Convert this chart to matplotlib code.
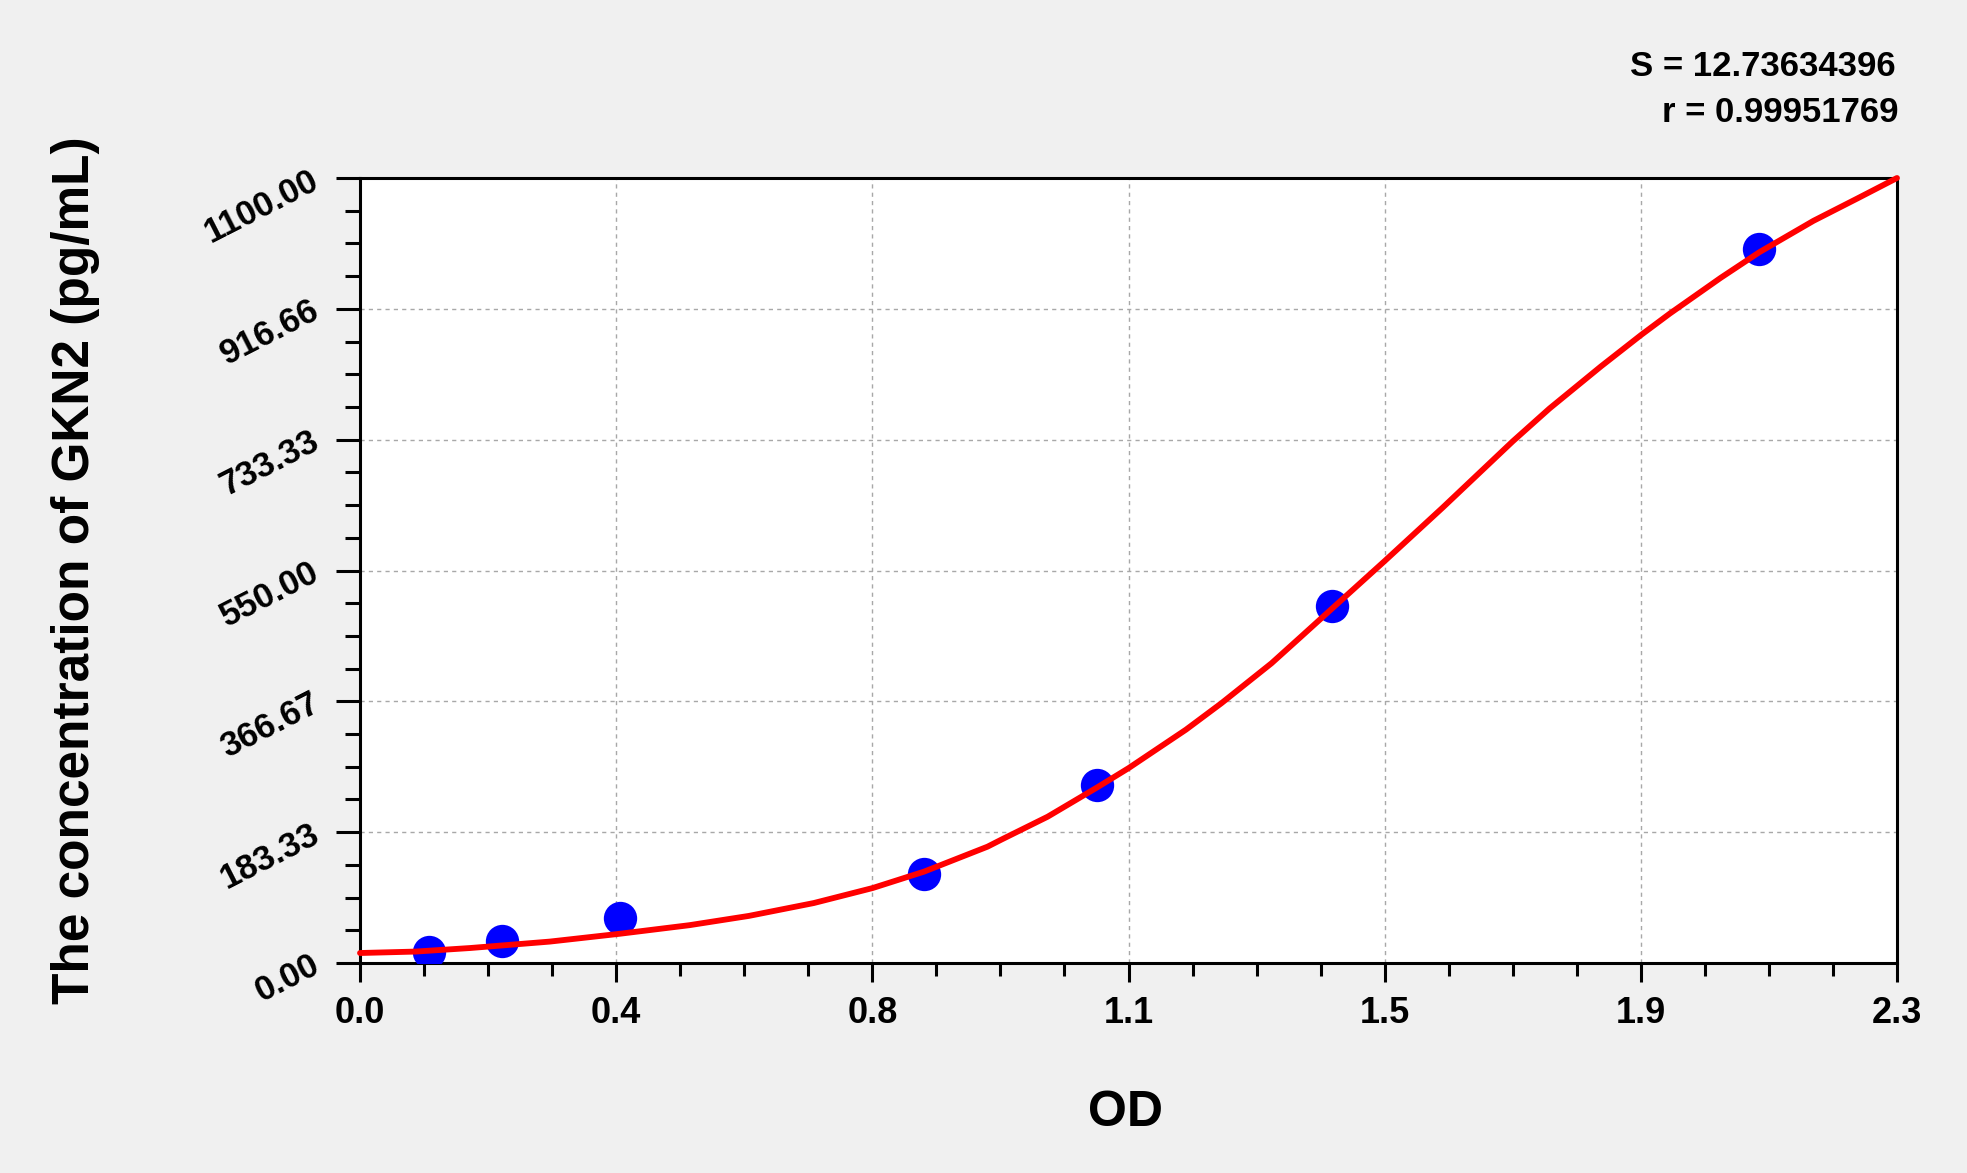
import numpy as np
import matplotlib
matplotlib.use('Agg')
import matplotlib.pyplot as plt
from matplotlib.ticker import FixedLocator, AutoMinorLocator

# standards (OD vs concentration)
od = [0.104, 0.212, 0.389, 0.844, 1.103, 1.455, 2.094]
conc = [15.63, 31.25, 62.5, 125, 250, 500, 1000]

# fitted curve
curve_od = [0.0, 0.083, 0.165, 0.284, 0.389, 0.493, 0.582, 0.679, 0.767, 0.844,
            0.939, 0.960, 1.029, 1.103, 1.150, 1.236, 1.289, 1.364, 1.409, 1.455,
            1.533, 1.620, 1.725, 1.780, 1.857, 1.917, 1.960, 2.036, 2.094, 2.175,
            2.240, 2.300]
curve_conc = [14, 16, 21, 30, 41, 53, 66, 84, 105, 128,
              163, 173, 205, 246, 273, 327, 364, 420, 458, 497,
              563, 638, 731, 777, 836, 880, 910, 960, 996, 1040,
              1071, 1100]

xticks = [0.0, 2.3 / 6, 2 * 2.3 / 6, 3 * 2.3 / 6, 4 * 2.3 / 6, 5 * 2.3 / 6, 2.3]
xtick_labels = ['0.0', '0.4', '0.8', '1.1', '1.5', '1.9', '2.3']
yticks = [0, 1100 / 6, 2 * 1100 / 6, 3 * 1100 / 6, 4 * 1100 / 6, 5 * 1100 / 6, 1100]
ytick_labels = ['0.00', '183.33', '366.67', '550.00', '733.33', '916.66', '1100.00']

stats = ['S = 12.73634396', 'r = 0.99951769']

narrow = ['Liberation Sans Narrow', 'Liberation Sans', 'DejaVu Sans']
wide = ['Liberation Sans', 'DejaVu Sans']

fig = plt.figure(figsize=(19.67, 11.73), dpi=100, facecolor='#f0f0f0')
ax = fig.add_axes([360 / 1967, 1 - 963 / 1173, 1537 / 1967, 785 / 1173])
ax.set_facecolor('white')

ax.plot(od, conc, 'o', color='#0000ff', markersize=24, markeredgewidth=0, zorder=3)
ax.plot(curve_od, curve_conc, color='#ff0000', linewidth=4.2, zorder=4,
        clip_on=False, solid_capstyle='round', solid_joinstyle='round')

ax.set_xlim(0, 2.3)
ax.set_ylim(0, 1100)

ax.xaxis.set_major_locator(FixedLocator(xticks))
ax.yaxis.set_major_locator(FixedLocator(yticks))
ax.xaxis.set_minor_locator(AutoMinorLocator(4))
ax.yaxis.set_minor_locator(AutoMinorLocator(4))

ax.set_xticklabels(xtick_labels, family=narrow, fontweight='bold', fontsize=26)
ax.set_yticklabels(ytick_labels, family=wide, fontweight='bold', fontsize=25,
                   rotation=27, ha='right', va='center', rotation_mode='anchor')

ax.tick_params(axis='x', which='major', length=14, width=2.2, direction='out', pad=10)
ax.tick_params(axis='x', which='minor', length=9, width=2.2, direction='out')
ax.tick_params(axis='y', which='major', length=17, width=2.2, direction='out', pad=14)
ax.tick_params(axis='y', which='minor', length=11, width=2.2, direction='out')

for sp in ax.spines.values():
    sp.set_linewidth(2.2)
    sp.set_color('black')

ax.grid(True, which='major', color='#a8a8a8', linestyle=(0, (3, 3)), linewidth=1)
ax.set_axisbelow(True)

ax.set_xlabel('OD', family=narrow, fontweight='bold', fontsize=36, va='center')
ax.xaxis.set_label_coords(0.498, -0.191)
ax.set_ylabel('The concentration of GKN2 (pg/mL)', family=narrow, fontweight='bold',
              fontsize=37, va='center')
ax.yaxis.set_label_coords(-0.185, 0.5)

fig.text(1896 / 1967, 1 - 66 / 1173, stats[0], ha='right', va='center',
         family=narrow, fontweight='bold', fontsize=25)
fig.text(1898 / 1967, 1 - 113 / 1173, stats[1], ha='right', va='center',
         family=narrow, fontweight='bold', fontsize=25)

fig.savefig('out.png', dpi=100, facecolor=fig.get_facecolor())
